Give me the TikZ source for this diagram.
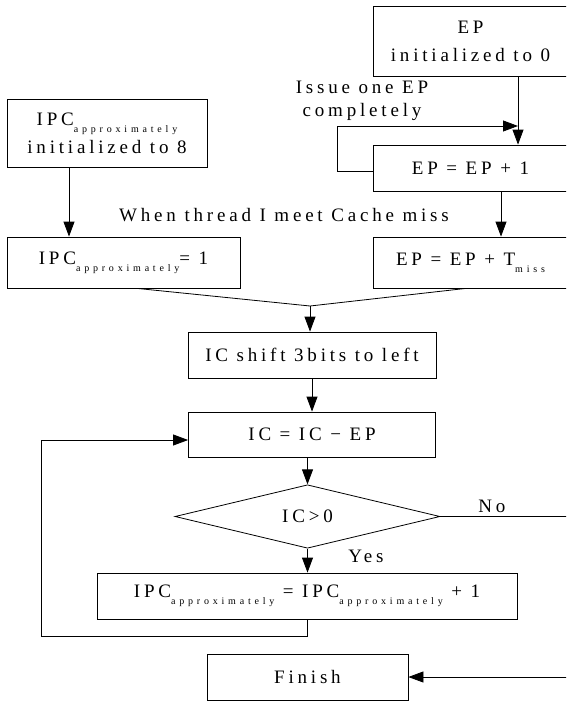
\documentclass[tikz,border=0pt]{standalone}
\usepackage{fontspec}
\setmainfont{Liberation Serif}[LetterSpace=20]
\newfontfamily\subfont{Liberation Serif}[LetterSpace=38]
\usetikzlibrary{arrows.meta,shapes.geometric}
\newcommand{\lowsub}[1]{\raisebox{-7pt}{\fontsize{10}{10}\subfont #1}}

\begin{document}
\begin{tikzpicture}[x=1pt,y=-1pt,line width=0.8pt,font=\fontsize{19}{28}\selectfont,
  box/.style={draw,rectangle,inner sep=0pt,align=center},
  testbox/.style={draw,diamond,inner sep=0pt},
  lbl/.style={inner sep=0pt,align=center},
  arr/.style={-{Triangle[length=15pt,width=11pt]}}]
\useasboundingbox (0,0) rectangle (566,701);
\clip (0,0) rectangle (566,701);
\node[box,minimum width=195pt,minimum height=70pt] (epinit) at (470.5,41) {EP\\initialized to 0};
\node[box,minimum width=200pt,minimum height=68pt] (ipcinit) at (107,133) {IPC\lowsub{approximately}\\initialized to 8};
\node[box,minimum width=195pt,minimum height=46pt] (epinc) at (470.5,168) {EP = EP + 1};
\node[box,minimum width=233pt,minimum height=51pt] (ipcone) at (123.5,262.5) {IPC\lowsub{approximately}= 1};
\node[box,minimum width=195pt,minimum height=51pt] (epmiss) at (470.5,262.5) {EP = EP + T\lowsub{miss}};
\node[box,minimum width=248pt,minimum height=46pt] (shift) at (312,355) {IC shift 3bits to left};
\node[box,minimum width=247pt,minimum height=45pt] (sub) at (312,434.5) {IC = IC − EP};
\node[testbox,minimum width=265pt,minimum height=47pt] (test) at (307.5,516.5) {IC>0};
\node[box,minimum width=420pt,minimum height=46pt] (incr) at (307,596) {IPC\lowsub{approximately} = IPC\lowsub{approximately} + 1};
\node[box,minimum width=201pt,minimum height=46pt] (finish) at (307.5,677) {Finish};
\node[lbl,font=\fontsize{19}{23}\selectfont] (issue) at (362,101) {Issue one EP\\completely};
\node[lbl] (cache) at (284,215) {When thread I meet Cache miss};
\node[lbl] (no) at (492,506) {No};
\node[lbl] (yes) at (366,556) {Yes};
\coordinate (ja) at (518,126);
\coordinate (jb) at (69,0);
\coordinate (jc) at (501,0);
\coordinate (m) at (310,306);
\coordinate (rt) at (568,0);
\coordinate (lft) at (41,440);
\draw[arr] (epinit.south -| ja) -- (epinc.north -| ja);
\draw[arr] ([yshift=-3pt]epinc.west) -- ++(-35,0) |- (ja);
\draw[arr] (ipcinit.south -| jb) -- (ipcone.north -| jb);
\draw[arr] (epinc.south -| jc) -- (epmiss.north -| jc);
\draw (ipcone.south -| 137,0) -- (m) -- (epmiss.south -| 466,0);
\draw[arr] (m) -- (shift.north -| m);
\draw[arr] (shift.south) -- (sub.north);
\draw[arr] (test.north |- sub.south) -- (test.north);
\draw[arr] (test.south) -- (incr.north -| test.south);
\draw[arr] (test.east) -- (test.east -| rt) |- (finish.east);
\draw[arr] (incr.south -| test.south) -- ++(0,17) -| (lft) -- (lft -| sub.west);
\end{tikzpicture}
\end{document}
